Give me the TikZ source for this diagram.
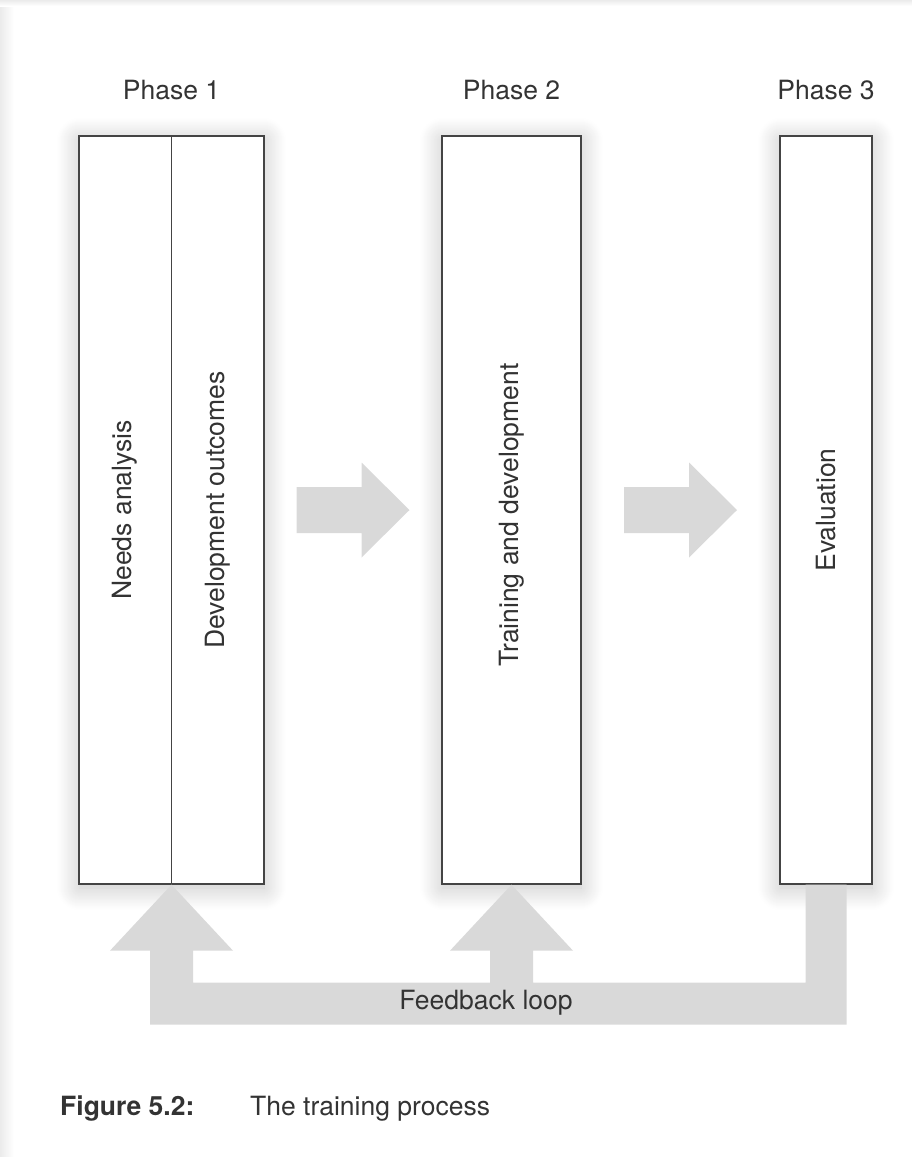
\documentclass[tikz,border=0pt]{standalone}
\usepackage{fontspec}
\setmainfont{TeX Gyre Heros}
\usetikzlibrary{calc,shadows.blur}

\definecolor{ink}{HTML}{333333}
\definecolor{frame}{HTML}{444444}
\definecolor{flow}{HTML}{D9D9D9}
\definecolor{edge}{HTML}{EBEBEB}

\tikzset{
  lbl/.style={font=\fontsize{26.5}{31}\selectfont, text=ink, inner sep=0pt},
  phasebox/.style={draw=frame, line width=1.3pt, fill=white, inner sep=0pt,
    blur shadow={shadow xshift=0pt, shadow yshift=-4pt,
                 shadow blur radius=22pt, shadow blur steps=24,
                 shadow opacity=24}},
  vlabel/.style={lbl, rotate=90},
  flowfill/.style={fill=flow, draw=none},
}

\begin{document}
\begin{tikzpicture}[x=1pt, y=1pt]
  \useasboundingbox (0,0) rectangle (912,-1157);

  % page edge
  \shade[left color=edge, right color=white] (0,0) rectangle (14,-1157);
  \shade[top color=edge, bottom color=white] (0,0) rectangle (912,-6);

  % phase boxes
  \node[phasebox, minimum width=185pt, minimum height=748pt] (p1) at (171.5,-510) {};
  \node[phasebox, minimum width=139pt, minimum height=748pt] (p2) at (511.5,-510) {};
  \node[phasebox, minimum width=92pt,  minimum height=748pt] (p3) at (826,-510) {};
  \draw[frame, line width=1.5pt] (p1.north) -- (p1.south);

  % box texts
  \node[vlabel] (needs) at ($(p1.center)!0.5!(p1.west)$) {Needs analysis};
  \node[vlabel] (devout) at ($(p1.center)!0.5!(p1.east)$) {Development outcomes};
  \node[vlabel] (train) at ($(p2.center)+(0,-5)$) {Training and development};
  \node[vlabel] (eval) at (p3.center) {Evaluation};

  % phase headings
  \node[lbl, anchor=base] (h1) at ($(p1.north)+(0,36)$) {Phase 1};
  \node[lbl, anchor=base] (h2) at ($(p2.north)+(0,36)$) {Phase 2};
  \node[lbl, anchor=base] (h3) at ($(p3.north)+(0,36)$) {Phase 3};

  % forward arrows between phases (centred in the gaps)
  \coordinate (m12) at ($(p1.east)!0.5!(p2.west)$);
  \coordinate (m23) at ($(p2.east)!0.5!(p3.west)$);
  \foreach \m in {m12,m23} {
    \fill[flowfill]
      ($(\m)+(-56.5,23)$) -- ($(\m)+(8.5,23)$) -- ($(\m)+(8.5,47.5)$)
      -- ($(\m)+(56.5,0)$)
      -- ($(\m)+(8.5,-47.5)$) -- ($(\m)+(8.5,-23)$) -- ($(\m)+(-56.5,-23)$)
      -- cycle;
  }

  % feedback loop
  \fill[flowfill]
    ($(p3.south)+(-20.5,0)$) -- ($(p3.south)+(20.5,0)$)
    -- ($(p3.south)+(20.5,-140)$) -- ($(p1.south)+(-21.5,-140)$)
    -- ($(p1.south)+(-21.5,-66)$) -- ($(p1.south)+(-61.5,-66)$)
    -- (p1.south)
    -- ($(p1.south)+(61.5,-66)$) -- ($(p1.south)+(21.5,-66)$)
    -- ($(p1.south)+(21.5,-98)$) -- ($(p2.south)+(-21.5,-98)$)
    -- ($(p2.south)+(-21.5,-66)$) -- ($(p2.south)+(-61.5,-66)$)
    -- (p2.south)
    -- ($(p2.south)+(61.5,-66)$) -- ($(p2.south)+(21.5,-66)$)
    -- ($(p2.south)+(21.5,-98)$) -- ($(p3.south)+(-20.5,-98)$)
    -- cycle;
  \node[lbl] (fb) at (486,-1003) {Feedback loop};

  % caption
  \node[lbl, anchor=base west] (capnum) at (60,-1115) {\bfseries Figure 5.2:};
  \node[lbl, anchor=base west] (captext) at (250,-1115) {The training process};
\end{tikzpicture}
\end{document}
